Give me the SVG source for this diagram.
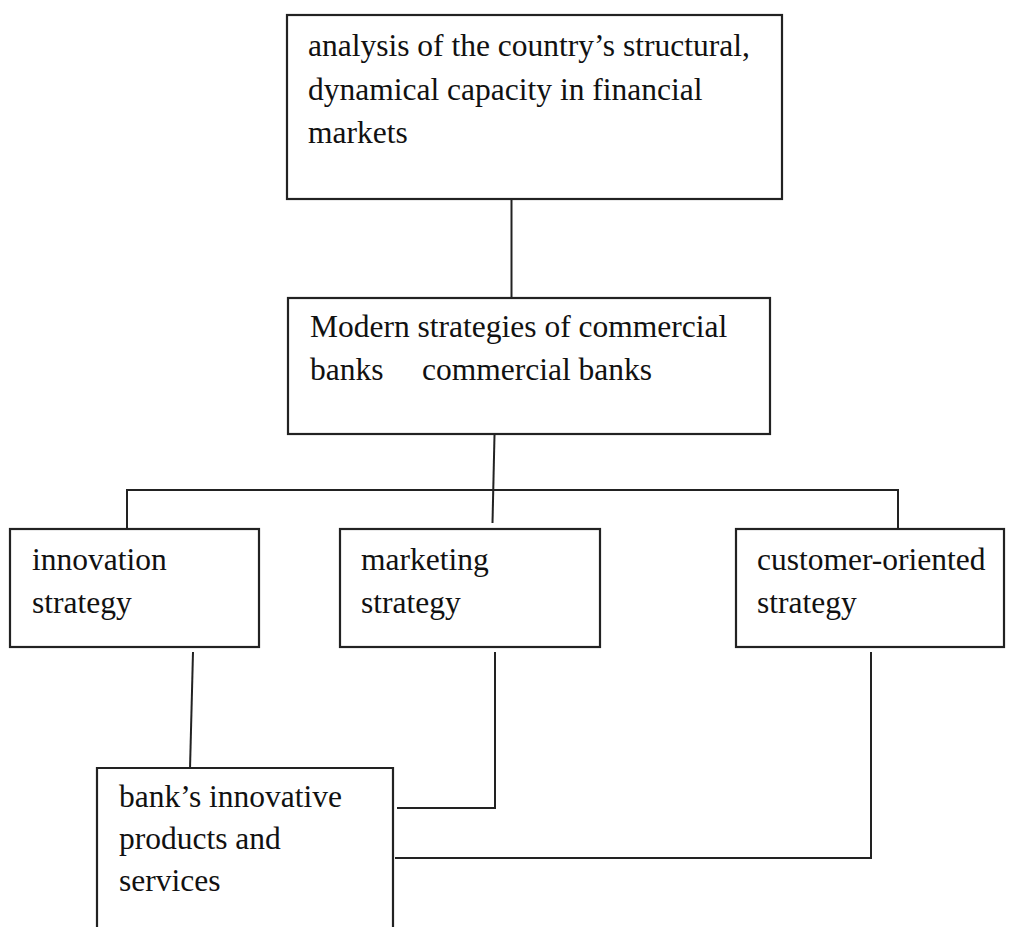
<svg xmlns="http://www.w3.org/2000/svg" width="1011" height="927" viewBox="0 0 1011 927">
<style>
.box{fill:#fff;stroke:#222;stroke-width:2.2}
.ln{fill:none;stroke:#222;stroke-width:2}
.t{font-family:"Liberation Serif","Times New Roman",serif;font-size:31.5px;fill:#111}
</style>
<rect width="1011" height="927" fill="#fff"/>
<g id="connectors">
<line class="ln" x1="511.5" y1="199" x2="511.5" y2="299"/>
<line class="ln" x1="494.5" y1="435" x2="492.5" y2="523"/>
<polyline class="ln" points="127,531 127,490 898,490 898,531"/>
<line class="ln" x1="193" y1="652" x2="190" y2="769"/>
<polyline class="ln" points="495,652 495,808 397,808"/>
<polyline class="ln" points="871,652 871,858 395,858"/>
</g>
<g id="node-analysis">
<rect class="box" x="287" y="15" width="495" height="184"/>
<text class="t" x="308" y="56">analysis of the country’s structural,</text>
<text class="t" x="308" y="100">dynamical capacity in financial</text>
<text class="t" x="308" y="143">markets</text>
</g>
<g id="node-modern">
<rect class="box" x="288" y="298" width="482" height="136"/>
<text class="t" x="310" y="337">Modern strategies of commercial</text>
<text class="t" x="310" y="380">banks<tspan x="422">commercial banks</tspan></text>
</g>
<g id="node-innovation">
<rect class="box" x="10" y="529" width="249" height="118"/>
<text class="t" x="32" y="570">innovation</text>
<text class="t" x="32" y="613">strategy</text>
</g>
<g id="node-marketing">
<rect class="box" x="340" y="529" width="260" height="118"/>
<text class="t" x="361" y="570">marketing</text>
<text class="t" x="361" y="613">strategy</text>
</g>
<g id="node-customer">
<rect class="box" x="736" y="529" width="268" height="118"/>
<text class="t" x="757" y="570">customer-oriented</text>
<text class="t" x="757" y="613">strategy</text>
</g>
<g id="node-products">
<path class="box" d="M97,930 V768 H393 V930"/>
<text class="t" x="119" y="807">bank’s innovative</text>
<text class="t" x="119" y="849">products and</text>
<text class="t" x="119" y="891">services</text>
</g>
</svg>
